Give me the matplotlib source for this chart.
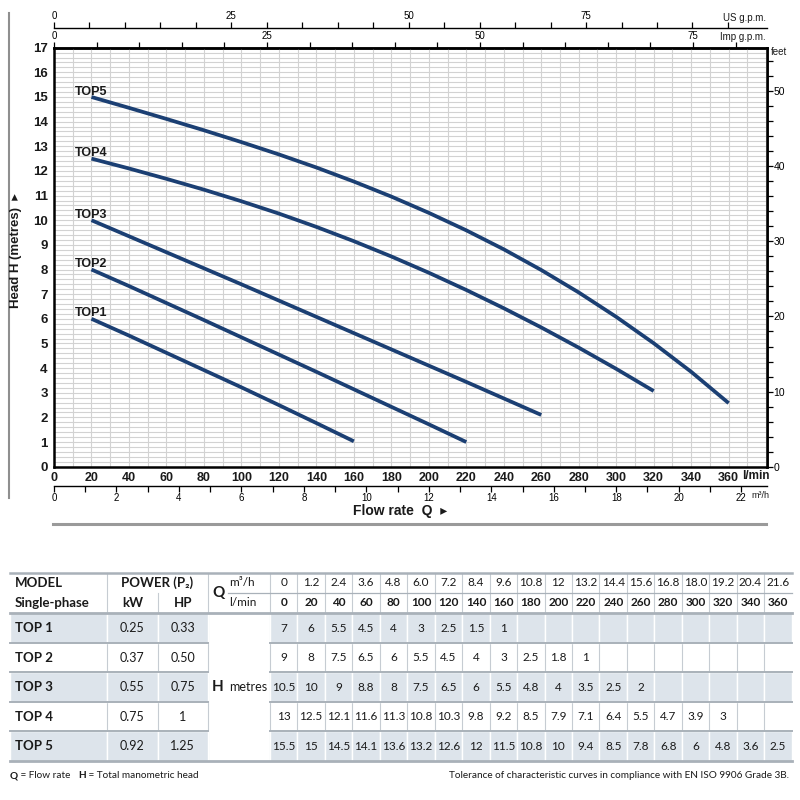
import numpy as np
import matplotlib.pyplot as plt
from matplotlib.patches import Rectangle
from matplotlib.ticker import FixedLocator, MultipleLocator

CHART_FONT = ['Liberation Sans', 'DejaVu Sans']
TABLE_FONT = ['Lato', 'DejaVu Sans']
plt.rcParams['font.family'] = CHART_FONT

NAVY = '#1b3f73'
GRID = '#d2d2d2'
SHADE = '#dde4eb'
LINE = '#a9b1b9'
INK = '#1a1a1a'

# pump curves: Q in l/min, H in metres
curve_names = ['TOP1', 'TOP2', 'TOP3', 'TOP4', 'TOP5']
top1_q = [20, 40, 60, 80, 100, 120, 140, 160]
top1_h = [6.0, 5.32, 4.62, 3.92, 3.22, 2.5, 1.77, 1.03]
top2_q = [20, 40, 60, 80, 100, 120, 140, 160, 180, 200, 220]
top2_h = [8.0, 7.33, 6.64, 5.95, 5.25, 4.55, 3.85, 3.14, 2.43, 1.72, 1.0]
top3_q = [20, 40, 60, 80, 100, 120, 140, 160, 180, 200, 220, 240, 260]
top3_h = [10.0, 9.35, 8.7, 8.05, 7.4, 6.74, 6.08, 5.42, 4.76, 4.1, 3.44, 2.77, 2.1]
top4_q = [20, 40, 60, 80, 100, 120, 140, 160, 180, 200, 220, 240, 260, 280, 300, 320]
top4_h = [12.5, 12.1, 11.68, 11.24, 10.77, 10.27, 9.73, 9.15, 8.53, 7.87, 7.17, 6.43, 5.65, 4.83, 3.97, 3.07]
top5_q = [20, 40, 60, 80, 100, 120, 140, 160, 180, 200, 220, 240, 260, 280, 300, 320, 340, 360]
top5_h = [15.0, 14.56, 14.11, 13.65, 13.17, 12.67, 12.14, 11.57, 10.96, 10.3, 9.59, 8.82, 7.98,
          7.07, 6.08, 5.01, 3.85, 2.58]
curves_q = [top1_q, top2_q, top3_q, top4_q, top5_q]
curves_h = [top1_h, top2_h, top3_h, top4_h, top5_h]

lmin_ticks = list(range(0, 361, 20))

# table data
models = ['TOP 1', 'TOP 2', 'TOP 3', 'TOP 4', 'TOP 5']
power_kw = ['0.25', '0.37', '0.55', '0.75', '0.92']
power_hp = ['0.33', '0.50', '0.75', '1', '1.25']
q_m3h = ['0', '1.2', '2.4', '3.6', '4.8', '6.0', '7.2', '8.4', '9.6', '10.8',
         '12', '13.2', '14.4', '15.6', '16.8', '18.0', '19.2', '20.4', '21.6']
q_lmin = ['0', '20', '40', '60', '80', '100', '120', '140', '160', '180',
          '200', '220', '240', '260', '280', '300', '320', '340', '360']
head_top1 = ['7', '6', '5.5', '4.5', '4', '3', '2.5', '1.5', '1']
head_top2 = ['9', '8', '7.5', '6.5', '6', '5.5', '4.5', '4', '3', '2.5', '1.8', '1']
head_top3 = ['10.5', '10', '9', '8.8', '8', '7.5', '6.5', '6', '5.5', '4.8', '4', '3.5', '2.5', '2']
head_top4 = ['13', '12.5', '12.1', '11.6', '11.3', '10.8', '10.3', '9.8', '9.2', '8.5',
             '7.9', '7.1', '6.4', '5.5', '4.7', '3.9', '3']
head_top5 = ['15.5', '15', '14.5', '14.1', '13.6', '13.2', '12.6', '12', '11.5', '10.8',
             '10', '9.4', '8.5', '7.8', '6.8', '6', '4.8', '3.6', '2.5']
heads = [head_top1, head_top2, head_top3, head_top4, head_top5]

fig = plt.figure(figsize=(8, 8), dpi=100, facecolor='white')

# overlay in pixel units for frame lines, labels and the table
tax = fig.add_axes([0, 0, 1, 1], zorder=-1)
tax.set_xlim(0, 800)
tax.set_ylim(800, 0)
tax.axis('off')

# ---------------- chart ----------------
ax = fig.add_axes([54 / 800, 1 - 466.7 / 800, 712.7 / 800, 419 / 800])
ax.set_xlim(0, 380.3)
ax.set_ylim(0, 17)
ax.set_xticks(lmin_ticks, labels=[str(t) for t in lmin_ticks], fontweight='bold')
ax.set_yticks(range(0, 18), labels=[str(t) for t in range(0, 18)], fontweight='bold')
ax.xaxis.set_minor_locator(MultipleLocator(10))
ax.yaxis.set_minor_locator(MultipleLocator(0.2))
ax.grid(which='both', color=GRID, lw=0.8)
ax.set_axisbelow(True)
ax.tick_params(which='both', length=0, labelcolor=INK)
ax.tick_params(axis='x', pad=3.5, labelsize=9)
ax.tick_params(axis='y', pad=4.5, labelsize=9.5)
for s in ax.spines.values():
    s.set_linewidth(1.8)

for name, q, h in zip(curve_names, curves_q, curves_h):
    ax.plot(q, h, color=NAVY, lw=2.7, solid_capstyle='butt', solid_joinstyle='round', zorder=3)
    ax.text(q[0] - 8.8, h[0] + 0.1, name, fontsize=9, fontweight='bold',
            ha='left', va='baseline', color=INK)

# US gpm on top, offset above
us = ax.secondary_xaxis(1.0463, functions=(lambda q: q * 0.264172, lambda g: g / 0.264172))
us.set_xticks([0, 25, 50, 75])
us.xaxis.set_minor_locator(FixedLocator(np.arange(0, 96, 5)))
us.tick_params(which='both', direction='out', length=4, width=0.9, labelsize=7, pad=1)
us.spines['top'].set_linewidth(1.0)

# Imperial gpm along the top spine
imp = ax.secondary_xaxis('top', functions=(lambda q: q * 0.219969, lambda g: g / 0.219969))
imp.set_xticks([0, 25, 50, 75])
imp.xaxis.set_minor_locator(FixedLocator(np.arange(0, 81, 5)))
imp.tick_params(which='both', direction='out', length=4, width=0.9, labelsize=7, pad=1)
imp.spines['top'].set_linewidth(1.8)

# m3/h below
m3h = ax.secondary_xaxis(-0.046, functions=(lambda q: q * 0.06, lambda m: m / 0.06))
m3h.set_xticks(range(0, 23, 2))
m3h.xaxis.set_minor_locator(MultipleLocator(1))
m3h.tick_params(which='both', direction='out', length=4, width=0.9, labelsize=7, pad=1)
m3h.spines['bottom'].set_linewidth(1.0)

# feet on the right
ft = ax.secondary_yaxis('right', functions=(lambda h: h * 3.28084, lambda f: f / 3.28084))
ft.set_yticks(range(0, 51, 10))
ft.yaxis.set_minor_locator(FixedLocator(np.arange(0, 55, 2)))
ft.tick_params(which='both', direction='out', length=4, width=0.9, labelsize=7.5, pad=1)
ft.spines['right'].set_linewidth(1.8)

tax.text(766, 18, 'US g.p.m.', fontsize=7, ha='right', va='center', color=INK)
tax.text(766, 37.5, 'Imp g.p.m.', fontsize=7, ha='right', va='center', color=INK)
tax.text(771, 52, 'feet', fontsize=7, ha='left', va='center', color=INK)
tax.text(742, 476, 'l/min', fontsize=8.5, fontweight='bold', ha='left', va='center', color=INK)
tax.text(751, 495.5, 'm³/h', fontsize=6.5, ha='left', va='center', color=INK)
tax.text(400, 511, 'Flow rate  Q  ▸', fontsize=10, fontweight='bold', ha='center', va='center', color=INK)
tax.text(16, 251, 'Head H (metres)  ▸', fontsize=9.5, fontweight='bold', rotation=90,
         ha='center', va='center', color=INK)
tax.plot([9, 9], [13, 498], color='#8f8f8f', lw=1.5)
tax.plot([53, 766], [523.5, 523.5], color='#9a9a9a', lw=2.2)

# ---------------- table ----------------
x0, x1, x2, x3, x4, xr = 10, 107.3, 157.7, 207.7, 270, 791.7
cw = (xr - x4) / len(q_lmin)
y_top, y_mid, y_hdr, rh = 572.7, 592.7, 613.3, 29.5
y_bot = y_hdr + rh * len(models)
col_edges = [x4 + cw * i for i in range(len(q_lmin) + 1)]

# vertical separators
for xv in [x1, x3, x4] + col_edges[1:-1]:
    tax.plot([xv, xv], [y_top, y_bot], color='#c6ccd2', lw=0.8, zorder=1)
tax.plot([x2, x2], [y_mid, y_bot], color='#c6ccd2', lw=0.8, zorder=1)

# shaded rows
for r in range(0, len(models), 2):
    yr = y_hdr + rh * r
    for a, b in [(x0, x1), (x1, x2), (x2, x3)] + list(zip(col_edges[:-1], col_edges[1:])):
        tax.add_patch(Rectangle((a, yr), b - a, rh, facecolor=SHADE, edgecolor='white', lw=1.0, zorder=2))

# horizontal rules
tax.plot([x0, xr], [y_top, y_top], color=LINE, lw=1.8, zorder=3)
tax.plot([228, xr], [y_mid, y_mid], color=LINE, lw=0.9, zorder=3)
tax.plot([x0, xr], [y_hdr, y_hdr], color=LINE, lw=2.0, zorder=3)
for r in range(1, len(models)):
    yl = y_hdr + rh * r
    tax.plot([x0, x3], [yl, yl], color=LINE, lw=1.4, zorder=3)
    tax.plot([x4, xr], [yl, yl], color=LINE, lw=1.4, zorder=3)
tax.plot([x0, xr], [y_bot, y_bot], color=LINE, lw=2.0, zorder=3)

tk = dict(family=TABLE_FONT, color=INK, zorder=4, va='center')
hy1, hy2 = (y_top + y_mid) / 2, (y_mid + y_hdr) / 2
tax.text(15, hy1, 'MODEL', fontsize=9.5, fontweight='bold', ha='left', **tk)
tax.text(15, hy2, 'Single-phase', fontsize=9.5, fontweight='bold', ha='left', **tk)
tax.text((x1 + x3) / 2, hy1, 'POWER (P₂)', fontsize=9.5, fontweight='bold', ha='center', **tk)
tax.text((x1 + x2) / 2, hy2, 'kW', fontsize=9.5, fontweight='bold', ha='center', **tk)
tax.text((x2 + x3) / 2, hy2, 'HP', fontsize=9.5, fontweight='bold', ha='center', **tk)
tax.text(212, (y_top + y_hdr) / 2, 'Q', fontsize=11, fontweight='bold', ha='left', **tk)
tax.text(229, hy1, 'm³/h', fontsize=8.5, ha='left', **tk)
tax.text(229, hy2, 'l/min', fontsize=8.5, ha='left', **tk)
for i, (m, l) in enumerate(zip(q_m3h, q_lmin)):
    xc = (col_edges[i] + col_edges[i + 1]) / 2
    tax.text(xc, hy1, m, fontsize=8.5, ha='center', **tk)
    tax.text(xc, hy2, l, fontsize=8.5, fontweight='bold', ha='center', **tk)

for r, (name, kw, hp, vals) in enumerate(zip(models, power_kw, power_hp, heads)):
    yc = y_hdr + rh * (r + 0.5)
    tax.text(15, yc, name, fontsize=9.5, fontweight='bold', ha='left', **tk)
    tax.text((x1 + x2) / 2, yc, kw, fontsize=9, ha='center', **tk)
    tax.text((x2 + x3) / 2, yc, hp, fontsize=9, ha='center', **tk)
    for i, v in enumerate(vals):
        xc = (col_edges[i] + col_edges[i + 1]) / 2
        tax.text(xc, yc, v, fontsize=8.5, ha='center', **tk)

ymid_rows = y_hdr + rh * len(models) / 2
tax.text(212, ymid_rows, 'H', fontsize=11, fontweight='bold', ha='left', **tk)
tax.text(229, ymid_rows, 'metres', fontsize=9, ha='left', **tk)

# footnotes
fk = dict(family=TABLE_FONT, color=INK, fontsize=7.2)
t = tax.text(10, 778, 'Q', fontweight='bold', ha='left', va='baseline', **fk)
t = tax.annotate(' = Flow rate   ', xy=(1, 0), xycoords=t, ha='left', va='bottom', **fk)
t = tax.annotate('H', xy=(1, 0), xycoords=t, ha='left', va='bottom', fontweight='bold', **fk)
tax.annotate(' = Total manometric head', xy=(1, 0), xycoords=t, ha='left', va='bottom', **fk)
tax.text(789, 778, 'Tolerance of characteristic curves in compliance with EN ISO 9906 Grade 3B.',
         ha='right', va='baseline', **fk)

fig.savefig('out.png', dpi=100)
